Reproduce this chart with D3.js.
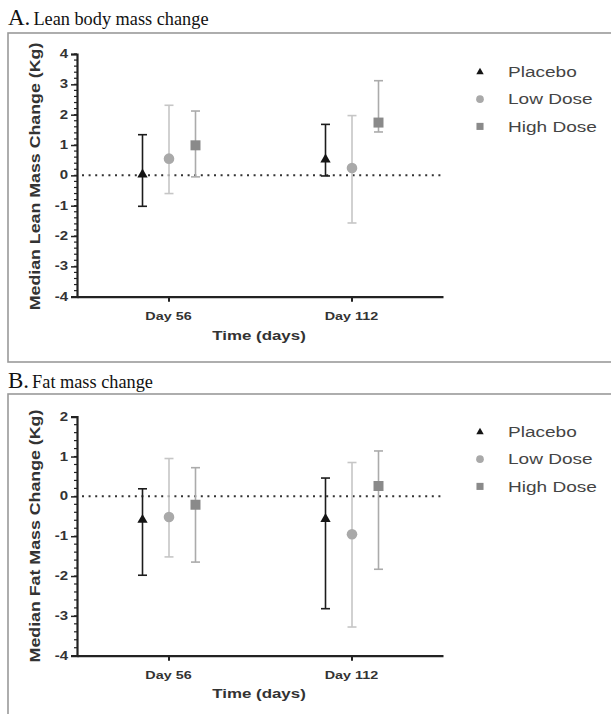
<!DOCTYPE html>
<html>
<head>
<meta charset="utf-8">
<script src="https://cdn.jsdelivr.net/npm/d3@7"></script>
<style>
  html, body { margin: 0; padding: 0; background: #fff; }
  svg { display: block; }
</style>
</head>
<body>
<svg id="chart" width="611" height="714"></svg>
<script>
// ---------- data ----------
const groups = ["Day 56", "Day 112"];
const series = ["Placebo", "Low Dose", "High Dose"];

// rows = series (Placebo, Low Dose, High Dose), columns = groups (Day 56, Day 112)
const leanMedian = [[0.03, 0.52], [0.55, 0.24], [0.99, 1.74]];
const leanLower  = [[-1.02, -0.02], [-0.60, -1.57], [-0.05, 1.43]];
const leanUpper  = [[1.34, 1.68], [2.31, 1.97], [2.12, 3.12]];

const fatMedian = [[-0.59, -0.57], [-0.52, -0.95], [-0.21, 0.26]];
const fatLower  = [[-1.98, -2.82], [-1.52, -3.28], [-1.65, -1.83]];
const fatUpper  = [[0.19, 0.46], [0.95, 0.85], [0.72, 1.14]];

const leanTicks = [-4, -3, -2, -1, 0, 1, 2, 3, 4];
const fatTicks  = [-4, -3, -2, -1, 0, 1, 2];

const panelTitles = [["A.", "Lean body mass change"], ["B.", "Fat mass change"]];
const yLabels = ["Median Lean Mass Change (Kg)", "Median Fat Mass Change (Kg)"];
const xLabel = "Time (days)";

// ---------- styles ----------
const markerFill = ["#141414", "#a9a9a9", "#8a8a8a"];
const barColor   = ["#1c1c1c", "#c6c6c6", "#ababab"];
const symbols    = [d3.symbolTriangle, d3.symbolCircle, d3.symbolSquare];
const markerSize = [46, 88, 100];
const legendSize = [24, 46, 50];

const svg = d3.select("#chart");

function stext(g, x, y, str, o) {
  const t = g.append("text")
    .attr("transform", `translate(${x},${y}) scale(${o.sx || 1},1)`)
    .attr("font-family", o.family || "'Liberation Sans', Arial, sans-serif")
    .attr("font-size", o.size)
    .attr("font-weight", o.weight || "normal")
    .attr("fill", o.fill || "#333")
    .attr("text-anchor", o.anchor || "start")
    .attr("dominant-baseline", o.baseline || "auto")
    .text(str);
  return t;
}

const panels = [
  { frameY: 33, frameH: 329, titleY: 25, yTop: 54, yBot: 296.7, ticks: leanTicks,
    med: leanMedian, lo: leanLower, hi: leanUpper, yLabelC: 176.5, xLabY: 320, timeY: 340,
    legY: 72 },
  { frameY: 394, frameH: 340, titleY: 388, yTop: 416.7, yBot: 655.7, ticks: fatTicks,
    med: fatMedian, lo: fatLower, hi: fatUpper, yLabelC: 536, xLabY: 679, timeY: 698,
    legY: 432 }
];

const axisX0 = 77, axisX1 = 443;

panels.forEach((p, pi) => {
  const g = svg.append("g");

  // frame
  g.append("rect").attr("x", 8).attr("y", p.frameY).attr("width", 620).attr("height", p.frameH)
    .attr("fill", "none").attr("stroke", "#9a9a9a").attr("stroke-width", 1.6);

  // title
  const tt = g.append("text").attr("x", 8).attr("y", p.titleY)
    .attr("font-family", "'Liberation Serif', 'Times New Roman', serif").attr("fill", "#111");
  tt.append("tspan").attr("font-size", 23).text(panelTitles[pi][0]);
  tt.append("tspan").attr("font-size", 18.3).attr("dx", 3).text(panelTitles[pi][1]);

  const y = d3.scaleLinear().domain([d3.min(p.ticks), d3.max(p.ticks)]).range([p.yBot, p.yTop]);
  const x = d3.scalePoint().domain(groups).range([axisX0, axisX1]).padding(0.5);
  const xs = d3.scalePoint().domain(series).range([-26, 27]);

  // minor ticks
  const minor = d3.range(d3.min(p.ticks) * 5, d3.max(p.ticks) * 5 + 1).map(v => v / 5);
  g.selectAll(".minor").data(minor).join("line")
    .attr("x1", axisX0 - 3).attr("x2", axisX0)
    .attr("y1", d => y(d)).attr("y2", d => y(d))
    .attr("stroke", "#222").attr("stroke-width", 1.2);

  // y axis
  const yAxis = d3.axisLeft(y).tickValues(p.ticks).tickSize(6).tickPadding(3).tickFormat(d3.format("d"));
  const ya = g.append("g").attr("transform", `translate(${axisX0},0)`).call(yAxis);
  ya.select(".domain").attr("stroke", "#222").attr("stroke-width", 2.2);
  ya.selectAll(".tick line").attr("stroke", "#222").attr("stroke-width", 1.5);
  ya.selectAll(".tick text").remove();
  p.ticks.forEach(t => {
    stext(g, axisX0 - 9, y(t), String(t), { size: 12.5, weight: "bold", sx: 1.2, anchor: "end",
      baseline: "central", fill: "#333" });
  });

  // x axis
  const xAxis = d3.axisBottom(x).tickSize(5).tickSizeOuter(0);
  const xa = g.append("g").attr("transform", `translate(0,${p.yBot})`).call(xAxis);
  xa.select(".domain").attr("stroke", "#222").attr("stroke-width", 2.2);
  xa.selectAll(".tick line").attr("stroke", "#222").attr("stroke-width", 2);
  xa.selectAll(".tick text").remove();
  groups.forEach(d => {
    stext(g, x(d), p.xLabY, d, { size: 11.5, weight: "bold", sx: 1.25, anchor: "middle", fill: "#333" });
  });
  stext(g, 259, p.timeY, xLabel, { size: 13, weight: "bold", sx: 1.3, anchor: "middle", fill: "#333" });

  // y label
  g.append("text")
    .attr("transform", `translate(40,${p.yLabelC}) rotate(-90) scale(1.27,1.1)`)
    .attr("font-family", "'Liberation Sans', Arial, sans-serif").attr("font-size", 14)
    .attr("font-weight", "bold").attr("fill", "#333").attr("text-anchor", "middle")
    .text(yLabels[pi]);

  // zero line
  g.append("line").attr("x1", axisX0 + 5).attr("x2", axisX1).attr("y1", y(0)).attr("y2", y(0))
    .attr("stroke", "#333").attr("stroke-width", 2).attr("stroke-dasharray", "2,4.6");

  // error bars
  series.forEach((s, si) => {
    groups.forEach((gr, gi) => {
      const cx = x(gr) + xs(s);
      const col = barColor[si];
      g.append("line").attr("x1", cx).attr("x2", cx)
        .attr("y1", y(p.lo[si][gi])).attr("y2", y(p.hi[si][gi]))
        .attr("stroke", col).attr("stroke-width", 1.6);
      [p.lo[si][gi], p.hi[si][gi]].forEach(v => {
        g.append("line").attr("x1", cx - 4.5).attr("x2", cx + 4.5)
          .attr("y1", y(v)).attr("y2", y(v)).attr("stroke", col).attr("stroke-width", 1.6);
      });
    });
  });
  // markers
  series.forEach((s, si) => {
    groups.forEach((gr, gi) => {
      const cx = x(gr) + xs(s);
      g.append("path").attr("d", d3.symbol(symbols[si], markerSize[si])())
        .attr("transform", `translate(${cx},${y(p.med[si][gi])})`)
        .attr("fill", markerFill[si]);
    });
  });

  // legend
  series.forEach((s, si) => {
    const ly = p.legY + si * 27.2;
    g.append("path").attr("d", d3.symbol(symbols[si], legendSize[si])())
      .attr("transform", `translate(480,${ly})`).attr("fill", markerFill[si]);
    stext(g, 508, ly, s, { size: 15, sx: 1.27, baseline: "central", fill: "#444" });
  });
});
</script>
</body>
</html>
